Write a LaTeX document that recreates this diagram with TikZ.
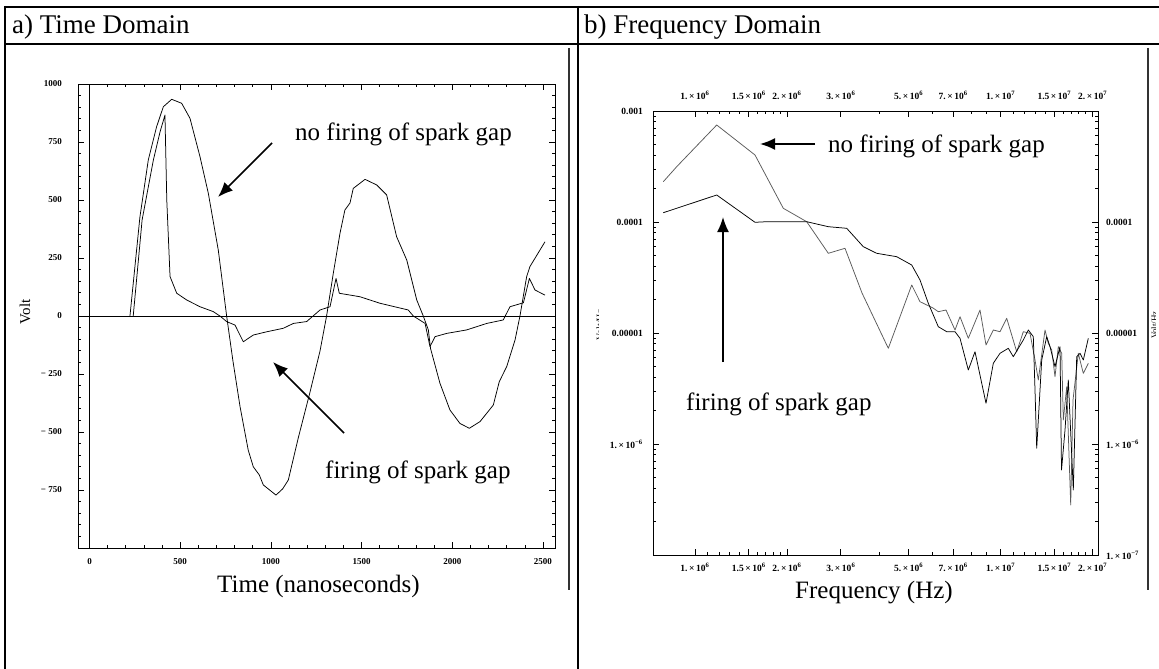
\documentclass[tikz,border=0pt]{standalone}
\usepackage{fontspec}
\setmainfont{Liberation Serif}
\usetikzlibrary{arrows.meta}
\newcommand\tenpow[2]{#1\,×\,10\textsuperscript{#2}}
\begin{document}
\begin{tikzpicture}[x=1pt,y=-1pt,
  tablerule/.style={line width=2.2pt},
  panelline/.style={line width=1.3pt, black!80},
  frame/.style={line width=1pt},
  tickmark/.style={line width=0.7pt},
  ticklab/.style={font=\fontsize{9}{9}\selectfont\bfseries, inner sep=0pt},
  freqlab/.style={font=\fontsize{9.5}{10}\selectfont\bfseries, inner sep=0pt},
  curve/.style={line width=0.75pt, line join=round},
  greycurve/.style={curve, black!65},
  callout/.style={line width=1.7pt, -{Latex[length=15pt,width=12pt]}},
  note/.style={font=\fontsize{25}{26}\selectfont, inner sep=0pt, anchor=base west},
  head/.style={font=\fontsize{27}{28}\selectfont, inner sep=0pt, anchor=base west},
]
\useasboundingbox (0,0) rectangle (1159,669);

% ---------------- table ----------------
\draw[tablerule] (4,7) -- (1159,7);
\draw[tablerule] (4,44) -- (1159,44);
\draw[line width=2.6pt] (5,6) -- (5,669);
\draw[tablerule] (578,6) -- (578,669);
\draw[panelline] (569,48) -- (569,590);
\draw[panelline] (1148,48) -- (1148,590);

\node[head] (ha) at (12,34) {a) Time Domain};
\node[head] (hb) at (584,34) {b) Frequency Domain};

% ---------------- time domain plot ----------------
\draw[frame] (78,84) rectangle (555,548);
\draw[line width=0.8pt] (78,316) -- (555,316);
\draw[line width=0.8pt] (89.5,84) -- (89.5,548);

\foreach \t in {0,100,...,2500} {
  \pgfmathsetmacro\xx{89.5+0.1814*\t}
  \pgfmathsetmacro\len{mod(\t,500)==0 ? 6 : 3}
  \draw[tickmark] (\xx,548) -- ++(0,-\len);
  \draw[tickmark] (\xx,84) -- ++(0,\len);
}
\foreach \v in {-950,-900,...,1000} {
  \pgfmathsetmacro\yy{316-0.232*\v}
  \pgfmathsetmacro\len{mod(\v,250)==0 ? 6 : 3}
  \draw[tickmark] (78,\yy) -- ++(\len,0);
  \draw[tickmark] (555,\yy) -- ++(-\len,0);
}
\foreach \t in {0,500,...,2500}
  \node[ticklab] (tx\t) at ({89.5+0.1814*\t},562) {\t};
\foreach \v/\s in {1000/1000,750/750,500/500,250/250,0/0,-250/− 250,-500/− 500,-750/− 750}
  \node[ticklab, anchor=east] (ty\v) at (62,{316-0.232*\v}) {\s};

\node[rotate=90, font=\fontsize{15}{16}\selectfont, inner sep=0pt] (volt) at (25,312) {Volt};
\node[note] (tlab) at (217,592) {Time (nanoseconds)};

\begin{scope}[shift={(89.5,316)}, x=0.1814pt, y=0.232pt]
  % no firing of the spark gap
  \draw[curve] plot coordinates {
    (223,0) (278,427) (324,672) (370,816) (407,902) (453,934) (508,917)
    (554,852) (609,687) (655,529) (710,284) (756,0) (790,-190) (830,-391)
    (875,-578) (903,-650) (936,-685) (958,-728) (1028,-772) (1065,-745)
    (1096,-707) (1151,-525) (1215,-330) (1271,-150) (1307,0) (1344,184)
    (1381,357) (1408,457) (1436,487) (1454,550) (1519,589) (1583,565)
    (1638,522) (1693,342) (1749,241) (1804,69) (1840,0) (1868,-60)
    (1880,-140) (1932,-290) (1987,-405) (2042,-463) (2094,-484) (2153,-455)
    (2226,-384) (2259,-283) (2300,-218) (2346,-103) (2373,0) (2410,170)
    (2428,213) (2511,320)};
  % firing of the spark gap
  \draw[curve] plot coordinates {
    (241,0) (290,414) (352,672) (389,794) (416,866) (426,500) (444,170)
    (481,98) (536,69) (609,40) (682,19) (719,0) (756,-24) (802,-39)
    (848,-111) (903,-82) (977,-68) (1068,-53) (1124,-32) (1197,-24)
    (1271,26) (1326,40) (1359,162) (1377,98) (1491,83) (1601,55) (1757,26)
    (1785,0) (1850,-32) (1877,-132) (1905,-89) (1969,-75) (2079,-60)
    (2190,-32) (2281,-17) (2318,40) (2392,57) (2425,162) (2456,112)
    (2511,90)};
\end{scope}

\node[note] (lnf) at (295,140) {no firing of spark gap};
\node[note] (lf) at (325,478) {firing of spark gap};
\coordinate (lnfT) at (272,143);
\coordinate (lnfH) at (218,197);
\coordinate (lfT) at (344,433);
\coordinate (lfH) at (273,362);
\draw[callout] (lnfT) -- (lnfH);
\draw[callout] (lfT) -- (lfH);

% ---------------- frequency domain plot ----------------
\draw[frame] (653,111) rectangle (1098,555);

\foreach \m/\len in {1/6,1.1/3,1.2/3,1.3/3,1.4/3,1.5/6,1.6/3,1.7/3,1.8/3,1.9/3,
                     2/6,3/6,4/3,5/6,6/3,7/6,8/3,9/3,
                     10/6,11/3,12/3,13/3,14/3,15/6,16/3,17/3,18/3,19/3,20/6} {
  \pgfmathsetmacro\xx{695+305.6*log10(\m)}
  \draw[tickmark] (\xx,555) -- ++(0,-\len);
  \draw[tickmark] (\xx,111) -- ++(0,\len);
}
\draw[tickmark] (653,111) -- ++(6,0);
\draw[tickmark] (1098,111) -- ++(-6,0);
\foreach \e in {1,2,3,4} {
  \foreach \m in {1,...,9} {
    \pgfmathsetmacro\yy{111+111*(\e-log10(\m))}
    \pgfmathsetmacro\len{\m==1 ? 6 : 3}
    \draw[tickmark] (653,\yy) -- ++(\len,0);
    \draw[tickmark] (1098,\yy) -- ++(-\len,0);
  }
}

\foreach \m/\s [count=\i] in {1/{\tenpow{1.}{6}},1.5/{\tenpow{1.5}{6}},2/{\tenpow{2.}{6}},
        3/{\tenpow{3.}{6}},5/{\tenpow{5.}{6}},7/{\tenpow{7.}{6}},
        10/{\tenpow{1.}{7}},15/{\tenpow{1.5}{7}},20/{\tenpow{2.}{7}}} {
  \node[freqlab] (fb\i) at ({695+305.6*log10(\m)},567) {\s};
  \node[freqlab] (ft\i) at ({695+305.6*log10(\m)},95) {\s};
}
\node[freqlab, anchor=east] (yl1) at (643,111) {0.001};
\node[freqlab, anchor=east] (yl2) at (643,222) {0.0001};
\node[freqlab, anchor=east] (yl3) at (643,333) {0.00001};
\node[freqlab, anchor=east] (yl4) at (643,444) {\tenpow{1.}{−6}};
\node[freqlab, anchor=west] (yr2) at (1106,222) {0.0001};
\node[freqlab, anchor=west] (yr3) at (1106,333) {0.00001};
\node[freqlab, anchor=west] (yr4) at (1106,444) {\tenpow{1.}{−6}};
\node[freqlab, anchor=west] (yr5) at (1106,555) {\tenpow{1.}{−7}};

% rotated axis captions, mostly hidden behind the panel edges
\begin{scope}
  \clip (590,290) rectangle (598,360);
  \node[rotate=90, font=\fontsize{10}{10}\selectfont, inner sep=0pt] (vl) at (600,325) {Volt/Hz};
\end{scope}
\begin{scope}
  \clip (1150,290) rectangle (1155,360);
  \node[rotate=90, font=\fontsize{9}{9}\selectfont, inner sep=0pt] (vr) at (1154.5,325) {Volt/Hz};
\end{scope}

\node[note] (flab) at (795,598) {Frequency (Hz)};

% no firing of the spark gap
\draw[greycurve] plot coordinates {
  (663.3,181.7) (676.7,166.7) (716.7,125) (755,155) (783.3,208.3) (806.7,221.7)
  (828.3,253.3) (845,248.3) (862,293) (888.3,348.3) (911.7,285) (920,301.7)
  (933,308) (938.3,311.7) (946,310) (955,330) (960,316.7) (968.3,338.3)
  (980,310) (986,345) (993.3,330) (1000,331.7) (1006.7,318.3) (1011.7,335)
  (1016.7,351.7) (1023.3,331.7) (1030,333.3) (1035,360) (1038.3,380)
  (1045,330) (1048.3,343.3) (1051.7,350) (1055,376.7) (1058.3,346.7)
  (1061.7,353.3) (1063.3,420) (1066.7,386.7) (1070.7,505) (1073,400)
  (1078.3,353.3) (1083.3,373.3) (1088.3,363.3)};
% firing of the spark gap
\draw[curve] plot coordinates {
  (663.3,212.7) (716.7,195) (755,222.3) (766.7,221.7) (806.7,221.7)
  (828.3,226.7) (846.7,228.3) (863.3,246.7) (876.7,253.3) (896.7,256.7)
  (911.7,265) (920,280) (928.3,303.3) (938.3,326.7) (946.7,331.7)
  (955,331.7) (960,338.3) (968.3,370) (975,351.7) (986,403.3) (993.3,363.3)
  (1000,353.3) (1008.3,348.3) (1013.3,356.7) (1018.3,348.3) (1023.3,340)
  (1028.3,330) (1033.3,336.7) (1035,390) (1036.7,448.3) (1041.7,360)
  (1046.7,336.7) (1050,346.7) (1055,366.7) (1060,346.7) (1061.5,470)
  (1065,430) (1068.3,380) (1073.3,490) (1076.7,356.7) (1080,353.3)
  (1083.3,360) (1088.3,338.3)};

\node[note] (rnf) at (828,152) {no firing of spark gap};
\node[note] (rf) at (686,410) {firing of spark gap};
\coordinate (rnfT) at (815,144);
\coordinate (rnfH) at (760,144);
\coordinate (rfT) at (723,362);
\coordinate (rfH) at (723,217);
\draw[callout] (rnfT) -- (rnfH);
\draw[callout] (rfT) -- (rfH);
\end{tikzpicture}
\end{document}
